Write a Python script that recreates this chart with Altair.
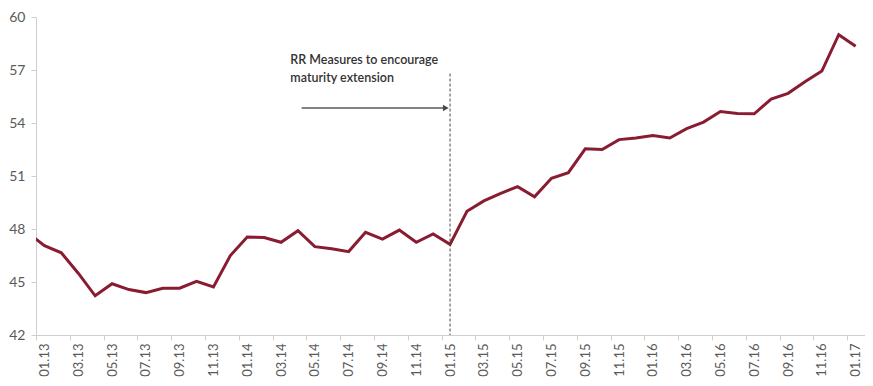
import json
import altair as alt
import pandas as pd

# Month labels (01.13 .. 01.17); the series also shows a lead-in segment from 12.12
months = [f"{m:02d}.{y}" for y in range(13, 17) for m in range(1, 13)] + ["01.17"]
lead_in_label = "12.12"
lead_in_value = 47.8

values = [
    47.06, 46.65, 45.50, 44.22, 44.90, 44.57, 44.40, 44.65, 44.65, 45.04, 44.72, 46.50,  # 2013
    47.55, 47.52, 47.25, 47.90, 47.00, 46.88, 46.72, 47.81, 47.43, 47.94, 47.25, 47.72,  # 2014
    47.13, 49.00, 49.59, 50.02, 50.40, 49.82, 50.87, 51.19, 52.54, 52.50, 53.06, 53.15,  # 2015
    53.29, 53.15, 53.68, 54.05, 54.65, 54.54, 54.52, 55.35, 55.68, 56.34, 56.94, 59.00,  # 2016
    58.35,                                                                               # 01.17
]

y_ticks = [42, 45, 48, 51, 54, 57, 60]
label_months = list(range(0, len(months), 2))

annotation_lines = ["RR Measures to encourage", "maturity extension"]
event_month = "01.15"

# ---- tables built from the lists ----
series = pd.DataFrame({
    "i": [-1] + list(range(len(months))),
    "month": [lead_in_label] + months,
    "value": [lead_in_value] + values,
})
ev = months.index(event_month)

PAD_L, PAD_T, PAD_R, PAD_B = 28, 9, 0, 43
W, H = 829, 318
step = 16.9
x_min = -0.5
x_max = x_min + W / step

x_scale = alt.Scale(domain=[x_min, x_max], nice=False, zero=False)
y_scale = alt.Scale(domain=[42, 60], nice=False, zero=False)

label_expr = json.dumps(months) + "[datum.value]"

x_axis = alt.Axis(values=label_months, labelExpr=label_expr, labelAngle=-90,
                  tickOffset=-step / 2, labelOffset=step / 2,
                  grid=False, tickSize=5, labelPadding=3, labelOverlap=False,
                  labelBound=False, labelFlush=False,
                  domainColor="#cfcfcf", tickColor="#cfcfcf",
                  labelColor="#5a5a5a", labelFont="Lato", labelFontSize=13,
                  labelBaseline="middle", labelAlign="right", title=None)
y_axis = alt.Axis(values=y_ticks, grid=False, tickSize=5, labelPadding=6,
                  labelOverlap=False, labelFlush=False,
                  domainColor="#cfcfcf", tickColor="#cfcfcf",
                  labelColor="#5a5a5a", labelFont="Lato", labelFontSize=14, title=None)

line = alt.Chart(series).mark_line(
    color="#8a1c32", strokeWidth=3, clip=True, strokeJoin="miter"
).encode(
    x=alt.X("i:Q", scale=x_scale, axis=x_axis),
    y=alt.Y("value:Q", scale=y_scale, axis=y_axis),
)

event_df = pd.DataFrame({"i": [ev], "top": [56.8], "bottom": [42.0]})
rule = alt.Chart(event_df).mark_rule(color="#4a4a4a", strokeWidth=1, strokeDash=[3, 2]).encode(
    x=alt.X("i:Q", scale=x_scale, axis=x_axis),
    y=alt.Y("top:Q", scale=y_scale, axis=y_axis),
    y2="bottom:Q",
)

arrow_df = pd.DataFrame({"start": [15.22], "end": [ev - 0.25], "y": [54.85]})
arrow_line = alt.Chart(arrow_df).mark_rule(color="#5a5a5a", strokeWidth=1.6).encode(
    x=alt.X("start:Q", scale=x_scale, axis=x_axis),
    x2="end:Q",
    y=alt.Y("y:Q", scale=y_scale, axis=y_axis),
)
arrow_head = alt.Chart(arrow_df).mark_point(
    shape="triangle-right", filled=True, color="#4a4a4a", size=45, opacity=1
).encode(
    x=alt.X("end:Q", scale=x_scale, axis=x_axis),
    y=alt.Y("y:Q", scale=y_scale, axis=y_axis),
)

text_df = pd.DataFrame({"i": [14.55, 14.55], "y": [57.58, 56.57], "t": annotation_lines})
text = alt.Chart(text_df).mark_text(
    align="left", baseline="middle", font="Lato", fontSize=12.5, color="#333333", fontWeight=600
).encode(
    x=alt.X("i:Q", scale=x_scale, axis=x_axis),
    y=alt.Y("y:Q", scale=y_scale, axis=y_axis),
    text="t:N",
)

chart = alt.layer(line, rule, arrow_line, arrow_head, text).properties(
    width=W, height=H,
    autosize=alt.AutoSizeParams(type="none"),
    padding={"left": PAD_L, "top": PAD_T, "right": PAD_R, "bottom": PAD_B},
    background="white",
).configure_view(stroke=None)

chart.save("out.html", embed_options={"renderer": "svg", "actions": False})
